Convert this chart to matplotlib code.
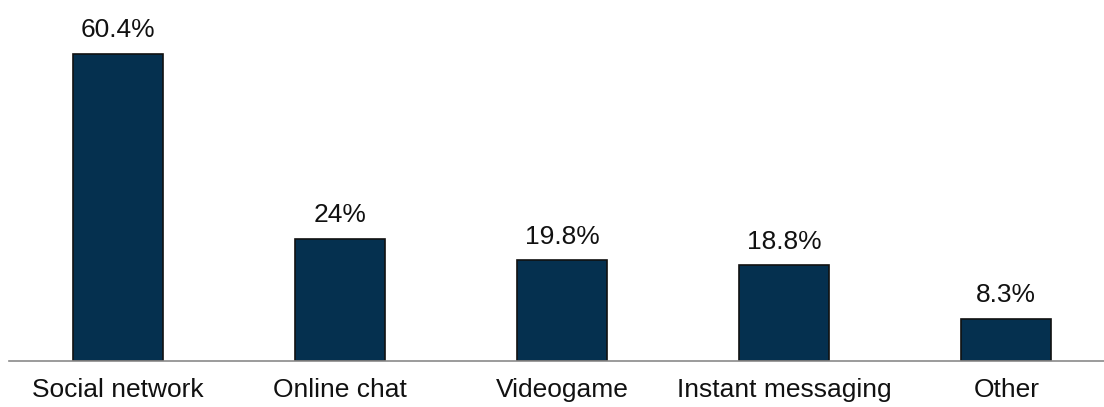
import matplotlib.pyplot as plt

categories = ['Social network', 'Online chat', 'Videogame', 'Instant messaging', 'Other']
values = [60.4, 24, 19.8, 18.8, 8.3]
value_labels = ['60.4%', '24%', '19.8%', '18.8%', '8.3%']

plt.rcParams['font.family'] = ['Liberation Sans', 'DejaVu Sans']

fig = plt.figure(figsize=(11.04, 4.07), dpi=100)
ax = fig.add_axes([9 / 1104, 46 / 407, 1095 / 1104, 361 / 407])

x = range(len(categories))
bars = ax.bar(x, values, width=0.405, color='#05304f', edgecolor='#111111', linewidth=1.2)

for xi, v, lab in zip(x, values, value_labels):
    ax.text(xi, v + 2.3, lab, ha='center', va='bottom', fontsize=19, color='#111111')

ax.set_xlim(-0.49, 4.44)
ax.set_ylim(0, 71)
ax.set_xticks(list(x))
ax.set_xticklabels(categories, fontsize=19, color='#111111')
ax.tick_params(axis='x', length=0, pad=12)
ax.set_yticks([])
for s in ['top', 'right', 'left']:
    ax.spines[s].set_visible(False)
ax.spines['bottom'].set_color('#8a8a8a')
ax.spines['bottom'].set_linewidth(1.2)

fig.savefig('out.png', dpi=100)
